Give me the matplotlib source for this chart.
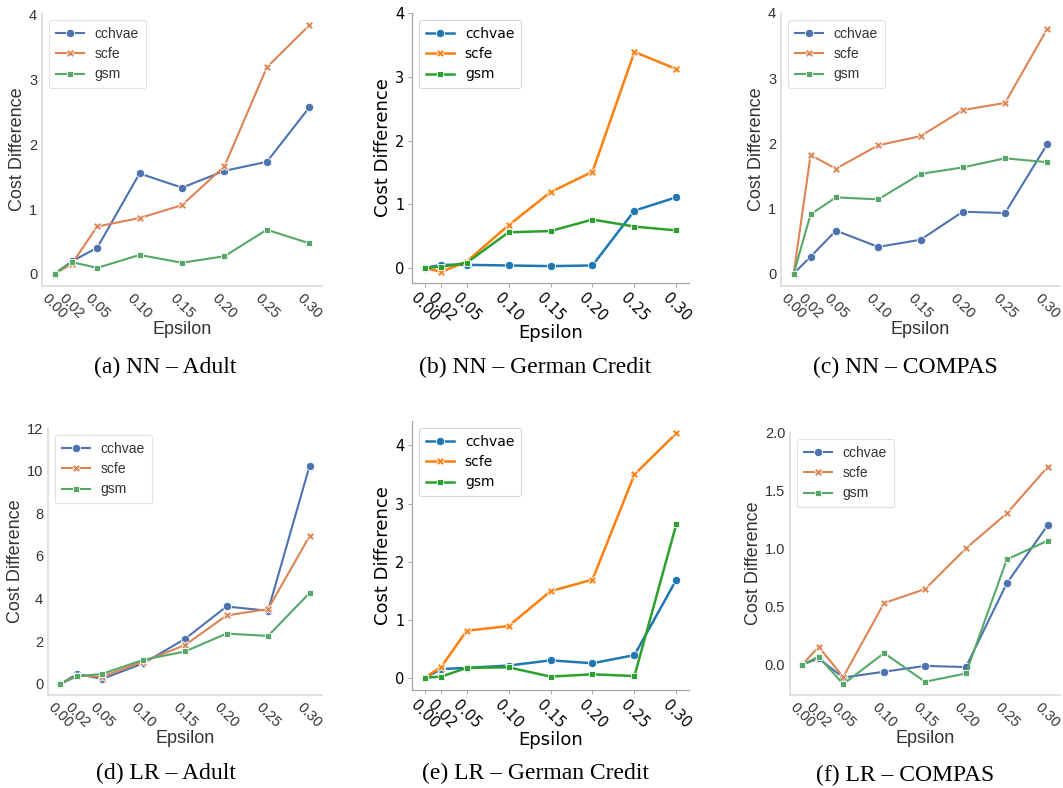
"""
Cost difference vs. epsilon for cchvae / scfe / gsm, NN and LR models on three datasets.
"""

import numpy as np
import matplotlib
matplotlib.use("Agg")
import matplotlib.pyplot as plt
from matplotlib.ticker import MultipleLocator

W, H = 1063, 788

epsilon = [0.00, 0.02, 0.05, 0.10, 0.15, 0.20, 0.25, 0.30]
eps_labels = ["0.00", "0.02", "0.05", "0.10", "0.15", "0.20", "0.25", "0.30"]
methods = ["cchvae", "scfe", "gsm"]

# (a) NN - Adult
nn_adult_cchvae = [0.00, 0.19, 0.40, 1.55, 1.33, 1.59, 1.73, 2.57]
nn_adult_scfe = [0.00, 0.15, 0.73, 0.86, 1.06, 1.66, 3.19, 3.84]
nn_adult_gsm = [0.00, 0.18, 0.09, 0.29, 0.17, 0.27, 0.68, 0.47]

# (b) NN - German Credit
nn_german_cchvae = [0.00, 0.05, 0.05, 0.04, 0.03, 0.04, 0.90, 1.11]
nn_german_scfe = [0.00, -0.06, 0.10, 0.67, 1.19, 1.51, 3.39, 3.12]
nn_german_gsm = [0.00, 0.02, 0.08, 0.56, 0.58, 0.76, 0.65, 0.59]

# (c) NN - COMPAS
nn_compas_cchvae = [0.00, 0.26, 0.66, 0.41, 0.52, 0.95, 0.93, 1.99]
nn_compas_scfe = [0.00, 1.82, 1.61, 1.97, 2.11, 2.51, 2.62, 3.76]
nn_compas_gsm = [0.00, 0.91, 1.17, 1.14, 1.53, 1.63, 1.77, 1.71]

# (d) LR - Adult
lr_adult_cchvae = [0.00, 0.47, 0.23, 0.97, 2.11, 3.63, 3.43, 10.22]
lr_adult_scfe = [0.00, 0.39, 0.34, 1.05, 1.82, 3.21, 3.51, 6.93]
lr_adult_gsm = [0.00, 0.36, 0.47, 1.13, 1.52, 2.36, 2.25, 4.26]

# (e) LR - German Credit
lr_german_cchvae = [0.00, 0.15, 0.17, 0.21, 0.30, 0.25, 0.39, 1.69]
lr_german_scfe = [0.00, 0.19, 0.81, 0.89, 1.49, 1.69, 3.50, 4.21]
lr_german_gsm = [0.00, 0.02, 0.17, 0.18, 0.02, 0.06, 0.03, 2.65]

# (f) LR - COMPAS
lr_compas_cchvae = [0.00, 0.054, -0.11, -0.06, -0.01, -0.02, 0.70, 1.20]
lr_compas_scfe = [0.00, 0.155, -0.106, 0.53, 0.65, 1.00, 1.30, 1.70]
lr_compas_gsm = [0.00, 0.07, -0.166, 0.10, -0.146, -0.075, 0.905, 1.066]

captions = ["(a) NN – Adult", "(b) NN – German Credit", "(c) NN – COMPAS",
            "(d) LR – Adult", "(e) LR – German Credit", "(f) LR – COMPAS"]

deep = ["#4C72B0", "#DD8452", "#55A868"]
tab = ["#1f77b4", "#ff7f0e", "#2ca02c"]
markers = ["o", "X", (4, 0, 45)]

panels = [
    # series, pixel rect (left, top, right, bottom), ylim, y tick step, style, caption centre
    ((nn_adult_cchvae, nn_adult_scfe, nn_adult_gsm), (42, 13, 322, 286), (-0.19, 4.03), 1, "sns", (165, 367)),
    ((nn_german_cchvae, nn_german_scfe, nn_german_gsm), (412, 13, 689, 283), (-0.235, 4.0), 1, "mpl", (535, 367)),
    ((nn_compas_cchvae, nn_compas_scfe, nn_compas_gsm), (781, 13, 1060, 286), (-0.19, 4.0), 1, "sns", (905, 367)),
    ((lr_adult_cchvae, lr_adult_scfe, lr_adult_gsm), (48, 428, 322, 695), (-0.52, 12.0), 2, "sns", (166, 773)),
    ((lr_german_cchvae, lr_german_scfe, lr_german_gsm), (412, 421, 689, 690), None, 1, "mpl", (535, 773)),
    ((lr_compas_cchvae, lr_compas_scfe, lr_compas_gsm), (790, 432, 1060, 695), (-0.26, 2.0), 0.5, "sns", (905, 775)),
]


def add_px_axes(fig, rect):
    left, top, right, bottom = rect
    return fig.add_axes([left / W, 1 - bottom / H, (right - left) / W, (bottom - top) / H])


def draw_panel(ax, series, ylim, ystep, style):
    sns_like = style == "sns"
    family = "Liberation Sans" if sns_like else "DejaVu Sans"
    colors = deep if sns_like else tab
    lw = 1.5 if sns_like else 1.8

    for vals, name, c, m in zip(series, methods, colors, markers):
        ax.plot(epsilon, vals, color=c, lw=lw, marker=m, ms=6,
                mec="white", mew=0.6, label=name)

    if ylim is not None:
        ax.set_ylim(*ylim)
    ax.yaxis.set_major_locator(MultipleLocator(ystep))
    if ystep == 0.5:
        ax.yaxis.set_major_formatter(lambda v, p: f"{v:.1f}")
    else:
        ax.yaxis.set_major_formatter(lambda v, p: f"{v:.0f}")
    ax.set_xticks(epsilon)
    ax.set_xticklabels(eps_labels, rotation=-45, ha="center")

    ax.spines["top"].set_visible(False)
    ax.spines["right"].set_visible(False)
    text_color = "#333333" if sns_like else "black"
    for s in ("left", "bottom"):
        ax.spines[s].set_color("0.85" if sns_like else "0.65")
        ax.spines[s].set_linewidth(1.1 if sns_like else 0.9)
    if sns_like:
        ax.tick_params(length=0, pad=3.5, labelsize=10.5, colors=text_color)
    else:
        ax.tick_params(length=3, width=0.7, color="0.65", pad=2.5, labelsize=10.5, labelcolor=text_color)
    for lab in ax.get_xticklabels() + ax.get_yticklabels():
        lab.set_family(family)

    ax.set_xlabel("Epsilon", fontsize=13, family=family, color=text_color, labelpad=0)
    ax.set_ylabel("Cost Difference", fontsize=13, family=family, color=text_color, labelpad=2)

    leg = ax.legend(loc="upper left", prop={"family": family, "size": 10},
                    frameon=True, fancybox=True, borderpad=0.5, labelspacing=0.45)
    leg.get_frame().set_edgecolor("0.85" if sns_like else "0.8")
    leg.get_frame().set_linewidth(0.8)
    for t in leg.get_texts():
        t.set_color(text_color)
    ax.grid(False)


def main():
    fig = plt.figure(figsize=(W / 100, H / 100), dpi=100)
    fig.patch.set_facecolor("white")

    for (series, rect, ylim, ystep, style, cap_xy), caption in zip(panels, captions):
        ax = add_px_axes(fig, rect)
        draw_panel(ax, series, ylim, ystep, style)
        fig.text(cap_xy[0] / W, 1 - cap_xy[1] / H, caption, ha="center", va="center",
                 fontsize=17, family="Liberation Serif", color="black")

    fig.savefig("out.png", dpi=100)


if __name__ == "__main__":
    main()
